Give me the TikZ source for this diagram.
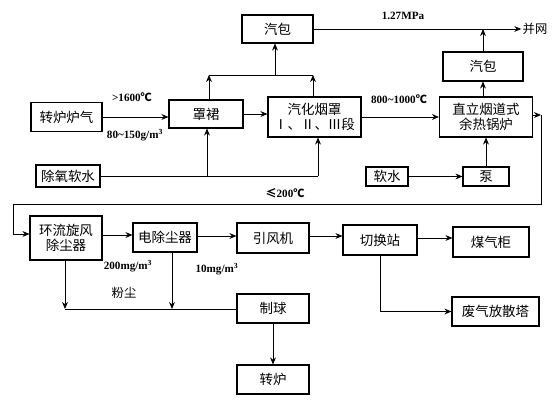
\documentclass[tikz,border=0pt]{standalone}
\usepackage{fontspec}
\setmainfont{Liberation Serif}
\newfontfamily\cjk{Noto Sans CJK SC}
\newcommand{\degc}{{\cjk\fontsize{9.5}{11}\selectfont ℃}}
\usetikzlibrary{arrows.meta, positioning}

\begin{document}
\begin{tikzpicture}[x=0.03cm, y=-0.03cm,
    every node/.style={font=\cjk\fontsize{11.5}{13}\selectfont, align=center, inner sep=1pt},
    unit/.style={draw, line width=0.9pt, minimum width=#1*0.03cm, minimum height=29*0.03cm},
    unit/.default=72,
    lbl/.style={font=\bfseries\fontsize{9.5}{11}\selectfont},
    flow/.style={-{Stealth[length=6pt, width=5pt]}, line width=0.7pt}
  ]
    \useasboundingbox (0,0) rectangle (554,400);

    % upper part: converter gas and hood
    \node[unit=71] (gas) at (66.5,117) {转炉炉气};
    \node[unit=74, minimum height=28*0.03cm] (skirt) at (206,114) {罩裙};
    \node[unit=93, minimum height=40*0.03cm] (hood) at (314.5,117) {汽化烟罩\\Ⅰ、Ⅱ、Ⅲ段};
    \node[unit=71, minimum height=28*0.03cm] (drumA) at (277.5,29) {汽包};
    \node[unit=93, minimum height=40*0.03cm] (boiler) at (486,117) {直立烟道式\\余热锅炉};
    \node[unit=80] (drumB) at (483,66.5) {汽包};
    \node[unit=64, minimum height=22*0.03cm] (water) at (68,176) {除氧软水};
    \node[unit=42, minimum height=19*0.03cm] (soft) at (387,176.5) {软水};
    \node[unit=46, minimum height=19*0.03cm] (pump) at (486,176.5) {泵};
    \node[font=\cjk\fontsize{10.5}{12}\selectfont] (grid) at (535,29) {并网};

    % lower part: dust removal
    \node[unit=72, minimum height=44*0.03cm] (cyclone) at (66,238) {环流旋风\\除尘器};
    \node[unit=64] (esp) at (165,237.5) {电除尘器};
    \node[unit=72, minimum height=30*0.03cm] (fan) at (273,238) {引风机};
    \node[unit=74, minimum height=30*0.03cm] (switch) at (380,240) {切换站};
    \node[unit=76, minimum height=30*0.03cm] (holder) at (491,242) {煤气柜};
    \node[unit=87] (stack) at (495.5,311.5) {废气放散塔};
    \node[unit=72] (ball) at (273,308.5) {制球};
    \node[unit=72] (conv) at (273,379.5) {转炉};

    % labels
    \node[lbl] (p1) at (403,16) {1.27MPa};
    \node[lbl] (t1) at (132,97) {>1600\degc};
    \node[lbl] (d1) at (135,135) {80\textasciitilde150g/m\textsuperscript{3}};
    \node[lbl] (t2) at (399,99) {800\textasciitilde1000\degc};
    \node[lbl] (t3) at (285,193) {{\cjk ≤}200\degc};
    \node[lbl] (d2) at (128,266) {200mg/m\textsuperscript{3}};
    \node[lbl] (d3) at (217,269) {10mg/m\textsuperscript{3}};
    \node[font=\cjk\fontsize{10.5}{12}\selectfont] (dust) at (124,293) {粉尘};

    \coordinate (c1) at (209,75);
    \coordinate (c2) at (313,75);
    \coordinate (c3) at (275,75);
    \coordinate (w1) at (207,176);
    \coordinate (w2) at (318,176);
    \coordinate (r1) at (541,115);
    \coordinate (r2) at (541,204);
    \coordinate (r3) at (13,204);
    \coordinate (r4) at (13,234);
    \coordinate (k1) at (65,309);
    \coordinate (k2) at (172,309);

    \draw[flow] (gas.east) -- (gas.east -| skirt.west);
    \draw[flow] (skirt.east) -- (skirt.east -| hood.west);
    \draw[flow] (hood) -- (boiler);
    \draw[line width=0.7pt] (c1) -- (c2);
    \draw[flow] (c1 |- skirt.north) -- (c1);
    \draw[flow] (c2 |- hood.north) -- (c2);
    \draw[flow] (c3) -- (c3 |- drumA.south);
    \draw[flow] (drumA.east) -- (grid.west);
    \draw[flow] (drumB.north) -- (drumB.north |- grid.west);
    \draw[flow] (drumB.south |- boiler.north) -- (drumB.south);
    \draw[line width=0.7pt] (water.east) -- (w2);
    \draw[flow] (w1) -- (w1 |- skirt.south);
    \draw[flow] (w2) -- (w2 |- hood.south);
    \draw[flow] (soft) -- (pump);
    \draw[flow] (pump) -- (boiler);

    \draw[flow] (boiler.east |- r1) -- (r1);
    \draw[flow] (r1) -- (r2) -- (r3) -- (r4) -- (r4 -| cyclone.west);
    \draw[flow] (cyclone.east |- 0,235) -- (esp.west |- 0,235);
    \draw[flow] (esp.east |- 0,236) -- (fan.west |- 0,236);
    \draw[flow] (fan.east |- 0,236) -- (switch.west |- 0,236);
    \draw[flow] (switch.east |- 0,238) -- (holder.west |- 0,238);
    \draw[flow] (switch.south) |- (stack.west);
    \draw[flow] (k1 |- cyclone.south) -- (k1);
    \draw[flow] (k2 |- esp.south) -- (k2);
    \draw[line width=0.7pt] (k1) -- (k1 -| ball.west);
    \draw[flow] (ball) -- (conv);
  \end{tikzpicture}
\end{document}
